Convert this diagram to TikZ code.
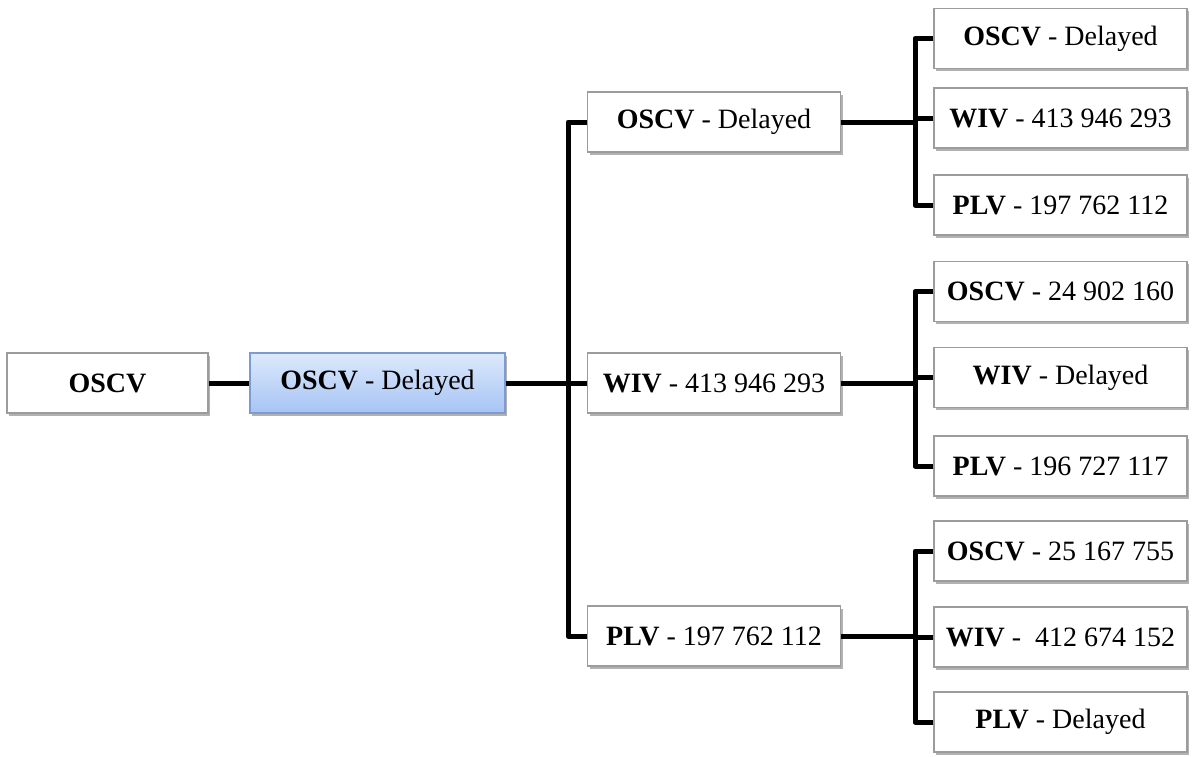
\documentclass[tikz,border=0pt]{standalone}
\usepackage{fontspec}
\setmainfont{Liberation Serif}
\usetikzlibrary{shadows, positioning}

\definecolor{boxline}{HTML}{9C9C9C}
\definecolor{bluetop}{HTML}{DDE9FC}
\definecolor{bluebot}{HTML}{A6C4F4}
\definecolor{blueline}{HTML}{7D9BD0}

\begin{document}
\begin{tikzpicture}[
    x=0.5pt, y=-0.5pt,
    vbox/.style = {rectangle, draw=boxline, fill=white, line width=0.6pt,
                   minimum width=126.5pt, minimum height=30pt, inner sep=0pt,
                   font=\fontsize{14}{16}\selectfont,
                   drop shadow={shadow xshift=1pt, shadow yshift=-1.3pt,
                                fill=black, opacity=0.3}},
    root/.style = {vbox, minimum width=100.5pt},
    pick/.style = {vbox, draw=blueline, top color=bluetop,
                   bottom color=bluebot, minimum width=127.5pt},
    link/.style = {line width=2.5pt, line join=round}
]
\useasboundingbox (0,0) rectangle (1192,756);

% ========= start and selected vehicle =========
\node[root] (oscv) at (107.5,383) {\textbf{OSCV}};
\node[pick] (sel)  at (377.5,383) {\textbf{OSCV} - Delayed};

% ========= second level =========
\node[vbox] (mo) at (714,122) {\textbf{OSCV} - Delayed};
\node[vbox] (mw) at (714,383) {\textbf{WIV} - 413 946 293};
\node[vbox] (mp) at (714,636) {\textbf{PLV} - 197 762 112};

% ========= third level =========
\node[vbox] (oo) at (1060.5,38.5) {\textbf{OSCV} - Delayed};
\node[vbox] (ow) at (1060.5,118)  {\textbf{WIV} - 413 946 293};
\node[vbox] (op) at (1060.5,205)  {\textbf{PLV} - 197 762 112};

\node[vbox] (wo) at (1060.5,291.5) {\textbf{OSCV} - 24 902 160};
\node[vbox] (ww) at (1060.5,377.5) {\textbf{WIV} - Delayed};
\node[vbox] (wp) at (1060.5,466)   {\textbf{PLV} - 196 727 117};

\node[vbox] (po) at (1060.5,551) {\textbf{OSCV} - 25 167 755};
\node[vbox] (pw) at (1060.5,637) {\textbf{WIV} - \ 412 674 152};
\node[vbox] (pp) at (1060.5,722) {\textbf{PLV} - Delayed};

% ========= connectors =========
\coordinate (mj) at (568,0);
\coordinate (rj) at (915,0);

\draw[link] (oscv) -- (sel);
\draw[link] (sel)  -- (mw);
\draw[link] (mo.west) -| (mj |- mp.west) -- (mp.west);

\draw[link] (mo.east) -- (mo.east -| rj);
\draw[link] (oo.west) -| (rj |- op.west) -- (op.west);
\draw[link] (ow.west) -- (ow.west -| rj);

\draw[link] (mw.east) -- (mw.east -| rj);
\draw[link] (wo.west) -| (rj |- wp.west) -- (wp.west);
\draw[link] (ww.west) -- (ww.west -| rj);

\draw[link] (mp.east) -- (mp.east -| rj);
\draw[link] (po.west) -| (rj |- pp.west) -- (pp.west);
\draw[link] (pw.west) -- (pw.west -| rj);

\end{tikzpicture}
\end{document}
